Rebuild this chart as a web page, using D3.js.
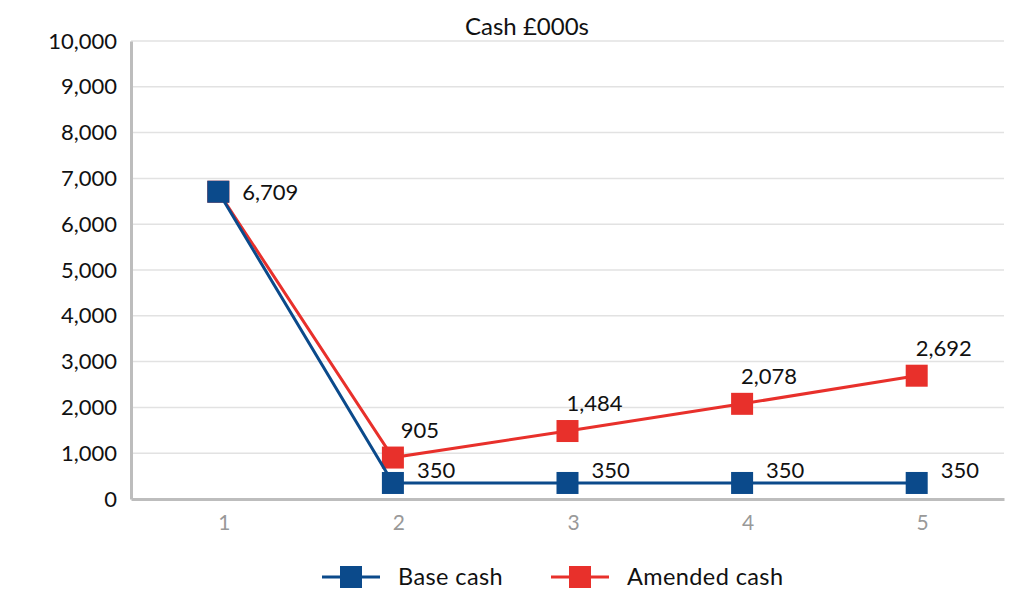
<!DOCTYPE html>
<html>
<head>
<meta charset="utf-8">
<script src="https://cdn.jsdelivr.net/npm/d3@7"></script>
<style>
  body { margin: 0; background: #fff; }
  text { font-family: Lato, "Noto Sans", sans-serif; }
</style>
</head>
<body>
<svg width="1024" height="611"></svg>
<script>
const periods = ["1", "2", "3", "4", "5"];
const baseCash = [6709, 350, 350, 350, 350];
const amendedCash = [6709, 905, 1484, 2078, 2692];
const yTicks = [0, 1000, 2000, 3000, 4000, 5000, 6000, 7000, 8000, 9000, 10000];
const seriesNames = ["Base cash", "Amended cash"];

const BLUE = "#0b4a8b";
const RED = "#e8302b";

var svg = d3.select("svg"),
	margin = {top: 41, right: 20, bottom: 112, left: 131},
	width = +svg.attr("width") - margin.left - margin.right,
	height = +svg.attr("height") - margin.top - margin.bottom;

var g = svg.append("g").attr("transform", "translate(" + margin.left + "," + margin.top + ")");

var x = d3.scaleBand().domain(periods).range([0, width]);
var y = d3.scaleLinear().domain([0, 10000]).range([height, 0]);
var fmt = d3.format(",");

// gridlines
g.append("g")
	.selectAll("line")
	.data(yTicks.filter(function (d) { return d > 0; }))
	.enter().append("line")
	.attr("x1", 0).attr("x2", width)
	.attr("y1", function (d) { return y(d); })
	.attr("y2", function (d) { return y(d); })
	.attr("stroke", "#e2e2e2")
	.attr("stroke-width", 1.5);

// y axis
var yAxis = g.append("g")
	.call(d3.axisLeft(y).tickValues(yTicks).tickFormat(fmt).tickSize(0).tickPadding(14));
yAxis.select(".domain").attr("stroke", "#bdbdbd").attr("stroke-width", 3);
yAxis.selectAll("text").attr("font-size", 22).attr("fill", "#111")
	.style("font-family", "Lato, sans-serif");

// x axis
var xAxis = g.append("g")
	.attr("transform", "translate(0," + height + ")")
	.call(d3.axisBottom(x).tickSize(0).tickPadding(16));
xAxis.select(".domain").attr("stroke", "#bdbdbd").attr("stroke-width", 3);
xAxis.selectAll("text").attr("font-size", 21).attr("fill", "#999")
	.style("font-family", "Lato, sans-serif")
	.attr("dx", 6);

// title
svg.append("text")
	.attr("x", 527).attr("y", 35)
	.attr("text-anchor", "middle")
	.attr("font-size", 24)
	.attr("fill", "#111")
	.text("Cash £000s");

var line = d3.line()
	.x(function (d, i) { return x(periods[i]) + x.bandwidth() / 2; })
	.y(function (d) { return y(d); });

function drawSeries(values, color) {
	g.append("path")
		.datum(values)
		.attr("fill", "none")
		.attr("stroke", color)
		.attr("stroke-width", 3)
		.attr("d", line);
	g.append("g")
		.selectAll("rect")
		.data(values)
		.enter().append("rect")
		.attr("x", function (d, i) { return x(periods[i]) + x.bandwidth() / 2 - 11; })
		.attr("y", function (d) { return y(d) - 11; })
		.attr("width", 22).attr("height", 22)
		.attr("fill", color);
}

drawSeries(amendedCash, RED);
drawSeries(baseCash, BLUE);

// labels
var cx = function (i) { return margin.left + x(periods[i]) + x.bandwidth() / 2; };
var cy = function (v) { return margin.top + y(v); };

// amended labels above markers (skip first, shared with base)
amendedCash.forEach(function (v, i) {
	if (i === 0) return;
	svg.append("text")
		.attr("x", cx(i) + 27)
		.attr("y", cy(v) - 20)
		.attr("text-anchor", "middle")
		.attr("font-size", 22)
		.attr("fill", "#111")
		.text(fmt(v));
});

// base labels to the right
baseCash.forEach(function (v, i) {
	var dy = i === 0 ? 8 : -5;
	svg.append("text")
		.attr("x", cx(i) + 24)
		.attr("y", cy(v) + dy)
		.attr("font-size", 22)
		.attr("fill", "#111")
		.text(fmt(v));
});

// legend
var legend = svg.append("g").attr("transform", "translate(0,577)");
var legendItems = [
	{name: seriesNames[0], color: BLUE, x: 322},
	{name: seriesNames[1], color: RED, x: 551}
];
legendItems.forEach(function (d) {
	legend.append("line")
		.attr("x1", d.x).attr("x2", d.x + 58)
		.attr("y1", 0).attr("y2", 0)
		.attr("stroke", d.color).attr("stroke-width", 3);
	legend.append("rect")
		.attr("x", d.x + 18).attr("y", -11)
		.attr("width", 22).attr("height", 22)
		.attr("fill", d.color);
	legend.append("text")
		.attr("x", d.x + 76).attr("y", 8)
		.attr("font-size", 23.5)
		.attr("letter-spacing", 0.4)
		.attr("fill", "#111")
		.text(d.name);
});
</script>
</body>
</html>
